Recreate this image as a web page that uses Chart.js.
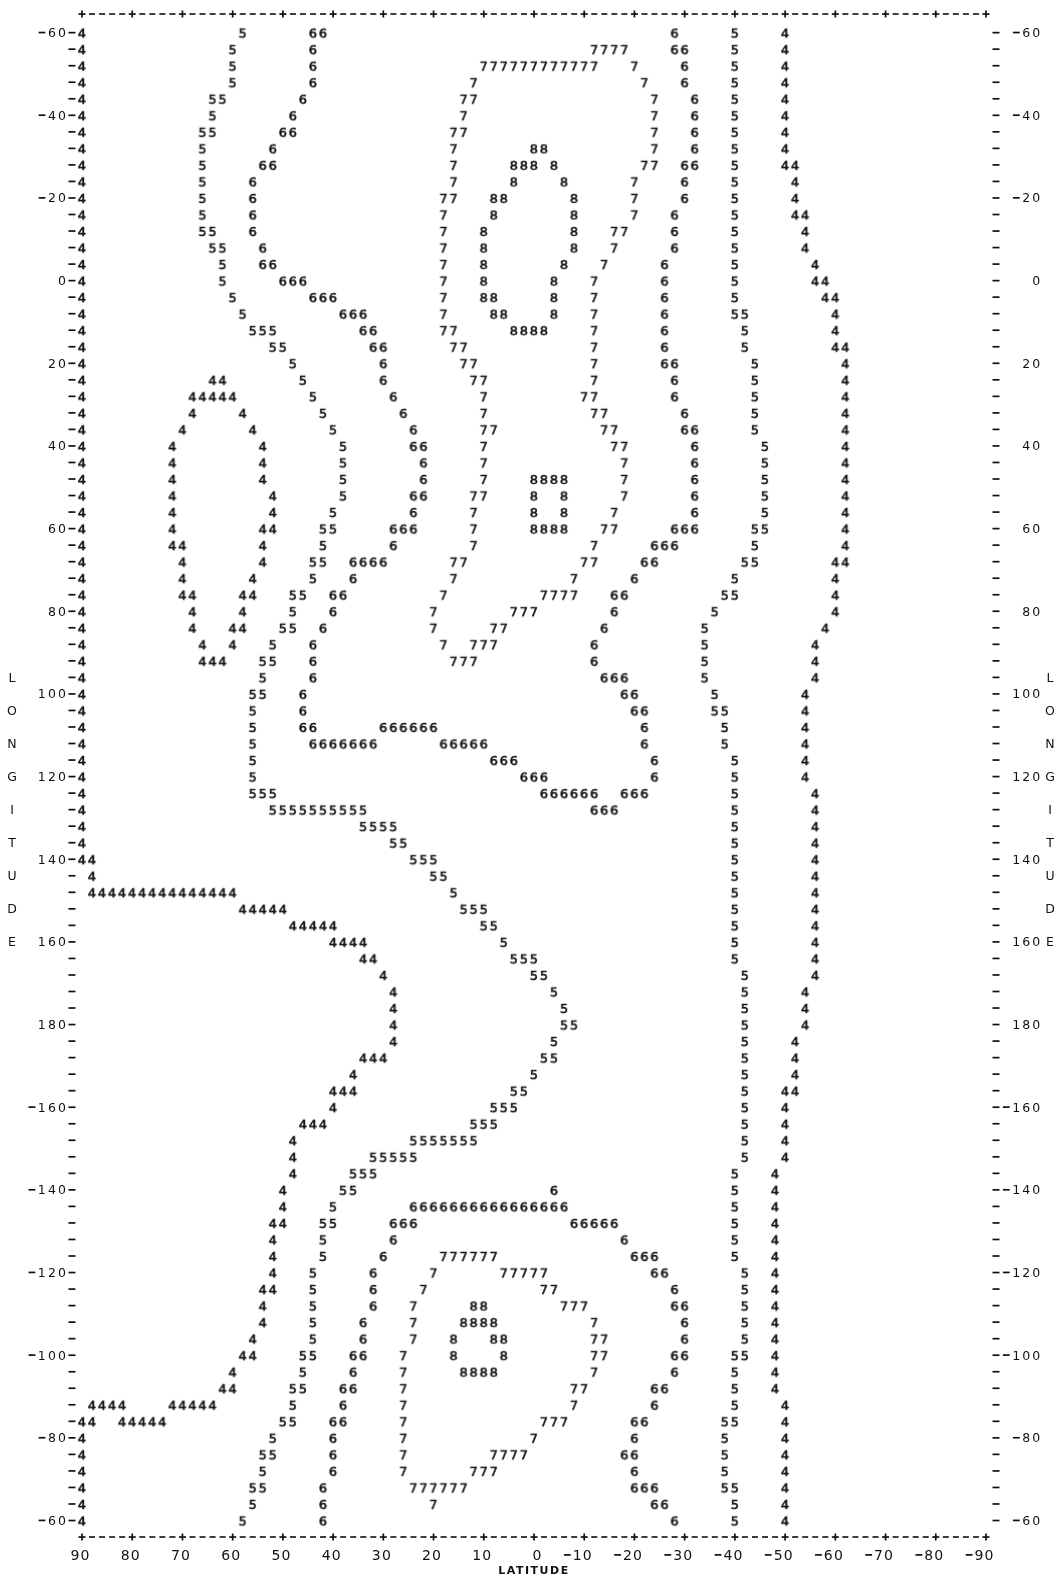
<!DOCTYPE html>
<html>
<head>
<meta charset="utf-8">
<script src="https://cdn.jsdelivr.net/npm/chart.js@4.4.1/dist/chart.umd.min.js"></script>
<style>
  html, body { margin: 0; padding: 0; background: #fff; }
  #wrap { width: 1061px; height: 1577px; }
</style>
</head>
<body>
<div id="wrap"><canvas id="contourChart" width="1061" height="1577"></canvas></div>
<script>
// printed grid: column 0 is latitude 90 (step -2 deg), row 0 is longitude -60 (step +4 deg)
const latStart = 90, latStep = -2;
const lonStart = -60, lonStep = 4;
const levels = ['4', '5', '6', '7', '8'];
const latLabels = [90, 80, 70, 60, 50, 40, 30, 20, 10, 0, -10, -20, -30, -40, -50, -60, -70, -80, -90];
const lonLabels = ['-60', '-40', '-20', '0', '20', '40', '60', '80', '100', '120', '140', '160', '180',
                   '-160', '-140', '-120', '-100', '-80', '-60'];

// each row: "startColumn:digits" runs
const contourRows = [
  '0:4 16:5 23:66 59:6 65:5 70:4',
  '0:4 15:5 23:6 51:7777 59:66 65:5 70:4',
  '0:4 15:5 23:6 40:777777777777 55:7 60:6 65:5 70:4',
  '0:4 15:5 23:6 39:7 56:7 60:6 65:5 70:4',
  '0:4 13:55 22:6 38:77 57:7 61:6 65:5 70:4',
  '0:4 13:5 21:6 38:7 57:7 61:6 65:5 70:4',
  '0:4 12:55 20:66 37:77 57:7 61:6 65:5 70:4',
  '0:4 12:5 19:6 37:7 45:88 57:7 61:6 65:5 70:4',
  '0:4 12:5 18:66 37:7 43:888 47:8 56:77 60:66 65:5 70:44',
  '0:4 12:5 17:6 37:7 43:8 48:8 55:7 60:6 65:5 71:4',
  '0:4 12:5 17:6 36:77 41:88 49:8 55:7 60:6 65:5 71:4',
  '0:4 12:5 17:6 36:7 41:8 49:8 55:7 59:6 65:5 71:44',
  '0:4 12:55 17:6 36:7 40:8 49:8 53:77 59:6 65:5 72:4',
  '0:4 13:55 18:6 36:7 40:8 49:8 53:7 59:6 65:5 72:4',
  '0:4 14:5 18:66 36:7 40:8 48:8 52:7 58:6 65:5 73:4',
  '0:4 14:5 20:666 36:7 40:8 47:8 51:7 58:6 65:5 73:44',
  '0:4 15:5 23:666 36:7 40:88 47:8 51:7 58:6 65:5 74:44',
  '0:4 16:5 26:666 36:7 41:88 47:8 51:7 58:6 65:55 75:4',
  '0:4 17:555 28:66 36:77 43:8888 51:7 58:6 66:5 75:4',
  '0:4 19:55 29:66 37:77 51:7 58:6 66:5 75:44',
  '0:4 21:5 30:6 38:77 51:7 58:66 67:5 76:4',
  '0:4 13:44 22:5 30:6 39:77 51:7 59:6 67:5 76:4',
  '0:4 11:44444 23:5 31:6 40:7 50:77 59:6 67:5 76:4',
  '0:4 11:4 16:4 24:5 32:6 40:7 51:77 60:6 67:5 76:4',
  '0:4 10:4 17:4 25:5 33:6 40:77 52:77 60:66 67:5 76:4',
  '0:4 9:4 18:4 26:5 33:66 40:7 53:77 61:6 68:5 76:4',
  '0:4 9:4 18:4 26:5 34:6 40:7 54:7 61:6 68:5 76:4',
  '0:4 9:4 18:4 26:5 34:6 40:7 45:8888 54:7 61:6 68:5 76:4',
  '0:4 9:4 19:4 26:5 33:66 39:77 45:8 48:8 54:7 61:6 68:5 76:4',
  '0:4 9:4 19:4 25:5 33:6 39:7 45:8 48:8 53:7 61:6 68:5 76:4',
  '0:4 9:4 18:44 24:55 31:666 39:7 45:8888 52:77 59:666 67:55 76:4',
  '0:4 9:44 18:4 24:5 31:6 39:7 51:7 57:666 67:5 76:4',
  '0:4 10:4 18:4 23:55 27:6666 37:77 50:77 56:66 66:55 75:44',
  '0:4 10:4 17:4 23:5 27:6 37:7 49:7 55:6 65:5 75:4',
  '0:4 10:44 16:44 21:55 25:66 36:7 46:7777 53:66 64:55 75:4',
  '0:4 11:4 16:4 21:5 25:6 35:7 43:777 53:6 63:5 75:4',
  '0:4 11:4 15:44 20:55 24:6 35:7 41:77 52:6 62:5 74:4',
  '0:4 12:4 15:4 19:5 23:6 36:7 39:777 51:6 62:5 73:4',
  '0:4 12:444 18:55 23:6 37:777 51:6 62:5 73:4',
  '0:4 18:5 23:6 52:666 62:5 73:4',
  '0:4 17:55 22:6 54:66 63:5 72:4',
  '0:4 17:5 22:6 55:66 63:55 72:4',
  '0:4 17:5 22:66 30:666666 56:6 64:5 72:4',
  '0:4 17:5 23:6666666 36:66666 56:6 64:5 72:4',
  '0:4 17:5 41:666 57:6 65:5 72:4',
  '0:4 17:5 44:666 57:6 65:5 72:4',
  '0:4 17:555 46:666666 54:666 65:5 73:4',
  '0:4 19:5555555555 51:666 65:5 73:4',
  '0:4 28:5555 65:5 73:4',
  '0:4 31:55 65:5 73:4',
  '0:44 33:555 65:5 73:4',
  '1:4 35:55 65:5 73:4',
  '1:444444444444444 37:5 65:5 73:4',
  '16:44444 38:555 65:5 73:4',
  '21:44444 40:55 65:5 73:4',
  '25:4444 42:5 65:5 73:4',
  '28:44 43:555 65:5 73:4',
  '30:4 45:55 66:5 73:4',
  '31:4 47:5 66:5 72:4',
  '31:4 48:5 66:5 72:4',
  '31:4 48:55 66:5 72:4',
  '31:4 47:5 66:5 71:4',
  '28:444 46:55 66:5 71:4',
  '27:4 45:5 66:5 71:4',
  '25:444 43:55 66:5 70:44',
  '25:4 41:555 66:5 70:4',
  '22:444 39:555 66:5 70:4',
  '21:4 33:5555555 66:5 70:4',
  '21:4 29:55555 66:5 70:4',
  '21:4 27:555 65:5 69:4',
  '20:4 26:55 47:6 65:5 69:4',
  '20:4 25:5 33:6666666666666666 65:5 69:4',
  '19:44 24:55 31:666 49:66666 65:5 69:4',
  '19:4 24:5 31:6 54:6 65:5 69:4',
  '19:4 24:5 30:6 36:777777 55:666 65:5 69:4',
  '19:4 23:5 29:6 35:7 42:77777 57:66 66:5 69:4',
  '18:44 23:5 29:6 34:7 46:77 59:6 66:5 69:4',
  '18:4 23:5 29:6 33:7 39:88 48:777 59:66 66:5 69:4',
  '18:4 23:5 28:6 33:7 38:8888 51:7 60:6 66:5 69:4',
  '17:4 23:5 28:6 33:7 37:8 41:88 51:77 60:6 66:5 69:4',
  '16:44 22:55 27:66 32:7 37:8 42:8 51:77 59:66 65:55 69:4',
  '15:4 22:5 27:6 32:7 38:8888 51:7 59:6 65:5 69:4',
  '14:44 21:55 26:66 32:7 49:77 57:66 65:5 69:4',
  '1:4444 9:44444 21:5 26:6 32:7 49:7 57:6 65:5 70:4',
  '0:44 4:44444 20:55 25:66 32:7 46:777 55:66 64:55 70:4',
  '0:4 19:5 25:6 32:7 45:7 55:6 64:5 70:4',
  '0:4 18:55 25:6 32:7 41:7777 54:66 64:5 70:4',
  '0:4 18:5 25:6 32:7 39:777 55:6 64:5 70:4',
  '0:4 17:55 24:6 33:777777 55:666 64:55 70:4',
  '0:4 17:5 24:6 35:7 57:66 65:5 70:4',
  '0:4 16:5 24:6 59:6 65:5 70:4'
];

const ink = '#111';
const digitFont = '"DejaVu Sans", sans-serif';

// points per contour level
const levelPoints = {};
levels.forEach(l => { levelPoints[l] = []; });
contourRows.forEach((row, r) => {
  const lon = lonStart + r * lonStep;
  row.split(' ').filter(Boolean).forEach(run => {
    const [col, digits] = run.split(':');
    [...digits].forEach((d, k) => {
      levelPoints[d].push({ x: latStart + latStep * (Number(col) + k), y: lon });
    });
  });
});

// small canvas with the printed digit, used as the point style
function digitSprite(d) {
  const c = document.createElement('canvas');
  c.width = 14;
  c.height = 16;
  const g = c.getContext('2d');
  g.font = '13px ' + digitFont;
  g.fillStyle = ink;
  g.strokeStyle = ink;
  g.lineWidth = 0.55;
  g.textAlign = 'center';
  g.textBaseline = 'alphabetic';
  g.fillText(d, 7, 8 + 4.7);
  g.strokeText(d, 7, 8 + 4.7);
  return c;
}

// print a string one character per grid column, last character at column lastCol
function printCells(ctx, x, text, lastCol, py, size) {
  [...text].forEach((ch, k) => {
    const col = lastCol - (text.length - 1 - k);
    const px = x.getPixelForValue(latStart + latStep * col);
    if (ch === '-') {
      // printer minus: same short bar as the tick marks
      ctx.fillRect(px - 3.2, py - size * 0.3645 - 0.85, 6.8, 1.7);
    } else {
      ctx.fillText(ch, px, py);
    }
  });
}

const printerFrame = {
  id: 'printerFrame',
  afterDatasetsDraw(chart) {
    const { ctx, chartArea, scales: { x, y } } = chart;
    ctx.save();
    ctx.fillStyle = ink;

    // top and bottom rules: '+' every 10 degrees, '-' in between
    for (let lat = 90; lat >= -90; lat -= 2) {
      const px = x.getPixelForValue(lat);
      [chartArea.top, chartArea.bottom].forEach(py => {
        if (lat % 10 === 0) {
          ctx.fillRect(px - 3.5, py - 0.8, 7, 1.7);
          ctx.fillRect(px - 0.85, py - 3.5, 1.7, 7);
        } else {
          ctx.fillRect(px - 3, py - 0.8, 6, 1.6);
        }
      });
    }

    // row marks on both sides
    const leftX = x.getPixelForValue(92);
    const rightX = x.getPixelForValue(-92);
    contourRows.forEach((row, r) => {
      const py = y.getPixelForValue(lonStart + r * lonStep);
      ctx.fillRect(leftX - 3.5, py - 0.8, 7, 1.7);
      ctx.fillRect(rightX - 3.5, py - 0.8, 7, 1.7);
    });

    // longitude labels, one character per column
    ctx.font = '12.5px ' + digitFont;
    ctx.textAlign = 'center';
    ctx.textBaseline = 'alphabetic';
    lonLabels.forEach((lab, i) => {
      const py = y.getPixelForValue(lonStart + 20 * i) + 4.5;
      printCells(ctx, x, lab, -2, py, 12.5);
      printCells(ctx, x, lab, 95, py, 12.5);
    });

    // latitude labels
    ctx.font = '14px ' + digitFont;
    latLabels.forEach(lat => {
      const col = (latStart - lat) / -latStep + 0.3;
      printCells(ctx, x, String(lat), col, chartArea.bottom + 23, 14);
    });

    // axis titles
    ctx.font = 'bold 11px ' + digitFont;
    ctx.letterSpacing = '1.5px';
    ctx.fillText('LATITUDE', x.getPixelForValue(0), chartArea.bottom + 37);
    ctx.letterSpacing = '0px';

    ctx.font = '12.5px ' + digitFont;
    const title = 'LONGITUDE';
    [...title].forEach((ch, k) => {
      const py = y.getPixelForValue(96 + 8 * k) + 4.5;
      ctx.fillText(ch, 12, py);
      ctx.fillText(ch, 1050, py);
    });
    ctx.restore();
  }
};

new Chart(document.getElementById('contourChart').getContext('2d'), {
  type: 'scatter',
  data: {
    datasets: levels.map(l => ({
      label: 'Level ' + l,
      data: levelPoints[l],
      pointStyle: digitSprite(l),
      pointRadius: 5,
      pointHoverRadius: 5,
      clip: false
    }))
  },
  options: {
    responsive: false,
    animation: false,
    events: [],
    layout: { padding: { left: 82, right: 75, top: 14, bottom: 40 } },
    scales: {
      x: { type: 'linear', min: -90, max: 90, reverse: true, display: false },
      y: { type: 'linear', min: -64.5, max: 304, reverse: true, display: false }
    },
    plugins: {
      legend: { display: false },
      tooltip: { enabled: false }
    }
  },
  plugins: [printerFrame]
});
</script>
</body>
</html>
